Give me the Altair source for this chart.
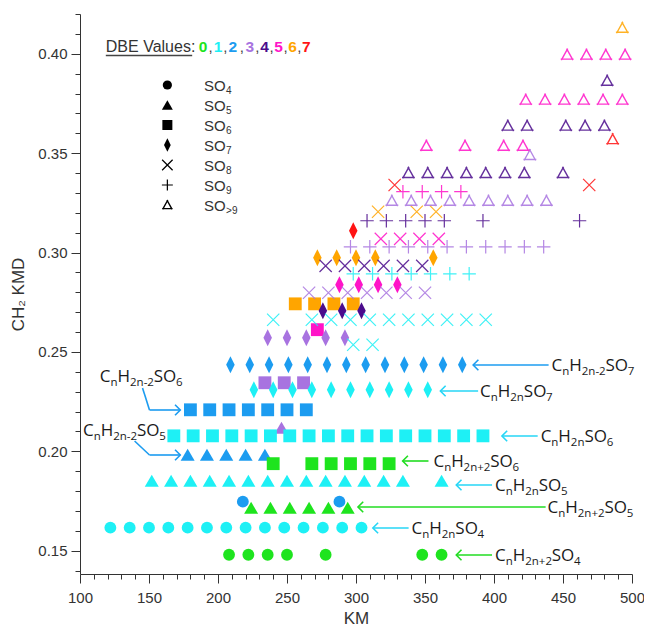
import altair as alt
import pandas as pd

# ---------------- data ----------------
dbe_levels = ["0", "1", "2", "3", "4", "5", "6", "7"]
dbe_colors = ["#1ee41e", "#1ef0f5", "#1c9cf0", "#a873e0", "#4b0c8c", "#ff14c8", "#ffa500", "#ff1414"]

# DBE 0
km_d0_so4 = [208, 222, 236, 250, 278, 348, 362]
km_d0_so5 = [224, 238, 252, 266, 280, 294]
km_d0_so6 = [240, 268, 282, 296, 310, 324]
# DBE 1
km_d1_so4 = [122, 136, 150, 164, 178, 192, 206, 220, 234, 248, 262, 276, 290, 304]
km_d1_so5 = [152, 166, 180, 194, 208, 222, 236, 250, 264, 278, 292, 306, 320, 334, 362]
km_d1_so6 = [168, 182, 196, 210, 224, 238, 252, 266, 280, 294, 308, 322, 336, 350, 364, 378, 392]
km_d1_so7 = [226, 240, 254, 268, 282, 296, 310, 324, 338, 352]
km_d1_so8a = [240, 268, 282, 296, 310, 324, 338, 352, 366, 380, 394]
km_d1_so8b = [298, 312]
km_d1_so9 = [298, 312, 326, 340, 354, 368, 382]
# DBE 2
km_d2_so4 = [218, 288]
km_d2_so5 = [178, 192, 206, 220, 234]
km_d2_so6 = [180, 194, 208, 222, 236, 250, 264]
km_d2_so7 = [209, 223, 237, 251, 265, 279, 293, 307, 321, 335, 349, 363, 377]
# DBE 3
km_d3_so5 = [246]
km_d3_so6 = [234, 248, 262]
km_d3_so7 = [236, 250, 264, 278, 292]
km_d3_so8 = [266, 280, 294, 308, 322, 336, 350]
km_d3_so9 = [296, 310, 324, 338, 352, 366, 380, 394, 408, 422, 436]
km_d3_sox_a = [326, 340, 354, 368, 382, 396, 410, 424, 438]
km_d3_sox_b = [426]
# DBE 4
km_d4_so7 = [276, 290, 304]
km_d4_so8 = [278, 292, 306, 320, 334, 348]
km_d4_so9 = [308, 322, 336, 350, 364, 392, 462]
km_d4_sox_a = [338, 352, 366, 380, 394, 408, 422, 450]
km_d4_sox_b = [410, 424, 452, 466, 480]
km_d4_sox_c = [482]
# DBE 5
km_d5_so6 = [272]
km_d5_so7 = [288, 302, 316, 330]
km_d5_so8 = [318, 332, 346, 360]
km_d5_so9 = [334, 348, 362, 376]
km_d5_sox_a = [351, 379, 407, 421]
km_d5_sox_b = [423, 437, 451, 465, 479, 493]
km_d5_sox_c = [453, 467, 481, 495]
# DBE 6
km_d6_so6 = [256, 270, 284, 298]
km_d6_so7 = [272, 286, 300, 314, 356]
km_d6_so8 = [316, 344, 358]
km_d6_sox = [493]
# DBE 7
km_d7_so7 = [298]
km_d7_so8 = [328, 469]
km_d7_sox = [486]

# (DBE, oxygen class, CH2 KMD, KM list)
series = [
    ("0", "SO4", 0.1480, km_d0_so4), ("0", "SO5", 0.1716, km_d0_so5), ("0", "SO6", 0.1938, km_d0_so6),
    ("1", "SO4", 0.1616, km_d1_so4), ("1", "SO5", 0.1852, km_d1_so5), ("1", "SO6", 0.2078, km_d1_so6),
    ("1", "SO7", 0.2310, km_d1_so7), ("1", "SO8", 0.2662, km_d1_so8a), ("1", "SO8", 0.2536, km_d1_so8b),
    ("1", "SO9", 0.2893, km_d1_so9),
    ("2", "SO4", 0.1747, km_d2_so4), ("2", "SO5", 0.1983, km_d2_so5), ("2", "SO6", 0.2209, km_d2_so6),
    ("2", "SO7", 0.2436, km_d2_so7),
    ("3", "SO5", 0.2119, km_d3_so5), ("3", "SO6", 0.2345, km_d3_so6), ("3", "SO7", 0.2571, km_d3_so7),
    ("3", "SO8", 0.2798, km_d3_so8), ("3", "SO9", 0.3029, km_d3_so9), ("3", "SOx", 0.3260, km_d3_sox_a),
    ("3", "SOx", 0.3490, km_d3_sox_b),
    ("4", "SO7", 0.2707, km_d4_so7), ("4", "SO8", 0.2933, km_d4_so8), ("4", "SO9", 0.3160, km_d4_so9),
    ("4", "SOx", 0.3400, km_d4_sox_a), ("4", "SOx", 0.3638, km_d4_sox_b), ("4", "SOx", 0.3864, km_d4_sox_c),
    ("5", "SO6", 0.2612, km_d5_so6), ("5", "SO7", 0.2838, km_d5_so7), ("5", "SO8", 0.3069, km_d5_so8),
    ("5", "SO9", 0.3306, km_d5_so9), ("5", "SOx", 0.3537, km_d5_sox_a), ("5", "SOx", 0.3769, km_d5_sox_b),
    ("5", "SOx", 0.3995, km_d5_sox_c),
    ("6", "SO6", 0.2742, km_d6_so6), ("6", "SO7", 0.2974, km_d6_so7), ("6", "SO8", 0.3205, km_d6_so8),
    ("6", "SOx", 0.4130, km_d6_sox),
    ("7", "SO7", 0.3110, km_d7_so7), ("7", "SO8", 0.3340, km_d7_so8), ("7", "SOx", 0.3570, km_d7_sox),
]

x_ticks = [100, 110, 120, 130, 140, 150, 160, 170, 180, 190, 200, 210, 220, 230, 240, 250, 260, 270, 280, 290,
           300, 310, 320, 330, 340, 350, 360, 370, 380, 390, 400, 410, 420, 430, 440, 450, 460, 470, 480, 490, 500]
y_ticks = [0.14, 0.15, 0.16, 0.17, 0.18, 0.19, 0.20, 0.21, 0.22, 0.23, 0.24, 0.25, 0.26, 0.27, 0.28, 0.29,
           0.30, 0.31, 0.32, 0.33, 0.34, 0.35, 0.36, 0.37, 0.38, 0.39, 0.40, 0.41, 0.42]

# ---------------- geometry helpers ----------------
X_DOM = [100, 500]
Y_DOM = [0.1383, 0.42]
W, H = 552, 560
# reference-figure pixel frame used to place annotations in data units
REF_X0, REF_W, REF_Y0, REF_H = 82, 556, 16, 560


def kx(px):  # reference pixel -> KM
    return X_DOM[0] + (px - REF_X0) * (X_DOM[1] - X_DOM[0]) / REF_W


def ky(py):  # reference pixel -> KMD
    return Y_DOM[1] - (py - REF_Y0) * (Y_DOM[1] - Y_DOM[0]) / REF_H


points = pd.DataFrame(
    [dict(km=k, kmd=y, dbe=d, so=s) for d, s, y, kms in series for k in kms]
)

TRI_TAILS = ("M-1.05,0.72L1.05,0.72M0.09,-1.0L-0.95,0.87M-0.09,-1.0L0.95,0.87")
SHAPES = {
    "SO4": dict(shape="circle", size=140, filled=True, strokeWidth=0, op=1),
    "SO5": dict(shape="M0,-0.85L1,0.85L-1,0.85Z", size=196, filled=True, strokeWidth=0, op=1),
    "SO6": dict(shape="square", size=165, filled=True, strokeWidth=0, op=1),
    "SO7": dict(shape="M0,-1L0.5,0L0,1L-0.5,0Z", size=290, filled=True, strokeWidth=0, op=1),
    "SO8": dict(shape="M-1,-1L1,1M-1,1L1,-1", size=150, filled=False, strokeWidth=1.2, op=0.85),
    "SO9": dict(shape="M-1,0L1,0M0,-1L0,1", size=180, filled=False, strokeWidth=1.2, op=0.85),
    "SOx": dict(shape=TRI_TAILS, size=150, filled=False, strokeWidth=1.4, op=0.85),
}
LEG_SIZES = {"SO4": 85, "SO5": 120, "SO6": 100, "SO7": 180, "SO8": 110, "SO9": 120, "SOx": 100}
LEG_SUBS = {"SO4": "4", "SO5": "5", "SO6": "6", "SO7": "7", "SO8": "8", "SO9": "9", "SOx": ">9"}
LEG_ORDER = ["SO4", "SO5", "SO6", "SO7", "SO8", "SO9", "SOx"]

x_axis = alt.Axis(
    values=x_ticks, labelExpr="datum.value % 50 === 0 ? datum.label : ''",
    tickSize={"condition": {"test": "datum.value % 50 === 0", "value": 9}, "value": 5},
    grid=False, labelFlush=False, labelOverlap=False, tickColor="#333", domainColor="#333",
    labelColor="#333", labelFont="Liberation Sans", labelFontSize=15, labelPadding=7,
    title="KM", titleFont="Liberation Sans", titleFontSize=17, titleFontWeight="normal",
    titleColor="#333", titlePadding=5,
)
y_axis = alt.Axis(
    values=y_ticks,
    labelExpr="round(datum.value*100) % 5 === 0 ? format(datum.value, '.2f') : ''",
    tickSize={"condition": {"test": "round(datum.value*100) % 5 === 0", "value": 9}, "value": 5},
    grid=False, labelFlush=False, labelOverlap=False, tickColor="#333", domainColor="#333",
    labelColor="#333", labelFont="Liberation Sans", labelFontSize=15, labelPadding=4,
    title="CH\u2082 KMD", titleFont="Liberation Sans", titleFontSize=17, titleFontWeight="normal",
    titleColor="#333", titlePadding=10,
)
xs = alt.Scale(domain=X_DOM, nice=False, zero=False)
ys = alt.Scale(domain=Y_DOM, nice=False, zero=False)


def X(f="km"):
    return alt.X(f"{f}:Q", scale=xs, axis=x_axis)


def Y(f="kmd"):
    return alt.Y(f"{f}:Q", scale=ys, axis=y_axis)


color = alt.Color("dbe:N", scale=alt.Scale(domain=dbe_levels, range=dbe_colors), legend=None)

layers = []
for so in LEG_ORDER:
    sp = SHAPES[so]
    sub = points[points.so == so]
    layers.append(
        alt.Chart(sub).mark_point(shape=sp["shape"], size=sp["size"], filled=sp["filled"],
                                  strokeWidth=sp["strokeWidth"], opacity=sp["op"])
        .encode(x=X(), y=Y(), color=color)
    )

# ---------------- legend symbols ----------------
leg_rows = [dict(km=kx(170), kmd=ky(87 + 20 * i), so=so) for i, so in enumerate(LEG_ORDER)]
for r in leg_rows:
    sp = SHAPES[r["so"]]
    layers.append(
        alt.Chart(pd.DataFrame([r])).mark_point(shape=sp["shape"], size=LEG_SIZES[r["so"]],
                                                filled=sp["filled"], strokeWidth=sp["strokeWidth"] or 0,
                                                opacity=1, color="black")
        .encode(x=X(), y=Y())
    )

# ---------------- annotation texts ----------------
OS_W = {"C": .634, "H": .739, "S": .537, "O": .781, "n": .614, "-": .322, "+": .572, ">": .572}
LS_W = {"S": .667, "O": .778}

BLUE, CYAN, GREEN = "#1c9cf0", "#26d6f6", "#22dd22"


def parts(hsub, osub):
    return [("C", 0), ("n", 1), ("H", 0), (hsub, 1), ("SO", 0), (osub, 1)]


labels = [
    (parts("2n-2", "7"), 557, 367), (parts("2n", "7"), 485, 393), (parts("2n", "6"), 546, 438),
    (parts("2n+2", "6"), 438, 463), (parts("2n", "5"), 500, 487), (parts("2n+2", "5"), 553, 509),
    (parts("2n", "4"), 416, 530), (parts("2n+2", "4"), 500, 557),
    (parts("2n-2", "6"), 102, 378), (parts("2n-2", "5"), 85, 432),
]

text_rows = []
for segs, x0, cy in labels:
    x = x0
    bl = cy + 6
    for txt, issub in segs:
        fs = 11.5 if issub else 17
        text_rows.append(dict(km=kx(x), kmd=ky(bl + (4 if issub else 0)), text=txt, fs=fs))
        x += sum(OS_W.get(ch, .572) for ch in txt) * fs
text_df = pd.DataFrame(text_rows)
layers.append(
    alt.Chart(text_df).mark_text(align="left", baseline="alphabetic", font="Open Sans", color="#1a1a1a")
    .encode(x=X(), y=Y(), text="text:N", size=alt.Size("fs:Q", scale=None))
)

# legend texts (SO + subscript)
leg_text = []
for i, so in enumerate(LEG_ORDER):
    cy = 87 + 20 * i
    leg_text.append(dict(km=kx(207), kmd=ky(cy + 5.5), text="SO", fs=15))
    leg_text.append(dict(km=kx(207 + 15 * (LS_W["S"] + LS_W["O"]) + 0.5), kmd=ky(cy + 8.5),
                         text=LEG_SUBS[so], fs=10))
leg_text.append(dict(km=kx(108), kmd=ky(54), text="DBE Values:", fs=16))
comma_x = [213.5, 228.5, 245, 260.5, 275, 289, 303]
leg_df = pd.DataFrame(leg_text)
layers.append(
    alt.Chart(leg_df).mark_text(align="left", baseline="alphabetic", font="Liberation Sans", color="#333")
    .encode(x=X(), y=Y(), text="text:N", size=alt.Size("fs:Q", scale=None))
)
comma_df = pd.DataFrame([dict(km=kx(px), kmd=ky(54), text=",") for px in comma_x])
layers.append(
    alt.Chart(comma_df).mark_text(align="center", baseline="alphabetic", font="Liberation Sans",
                                  fontSize=15, color="#444")
    .encode(x=X(), y=Y(), text="text:N")
)
digit_x = [206, 221, 236, 253, 268, 282, 296, 310]
digit_df = pd.DataFrame([dict(km=kx(px), kmd=ky(54), text=d, dbe=d) for px, d in zip(digit_x, dbe_levels)])
digit_colors = ["#1ee41e", "#1ef0f5", "#1c9cf0", "#a873e0", "#111111", "#ff14c8", "#ffa500", "#ff1414"]
layers.append(
    alt.Chart(digit_df).mark_text(align="center", baseline="alphabetic", font="Liberation Sans",
                                  fontSize=15.5, fontWeight="bold")
    .encode(x=X(), y=Y(), text="text:N",
            color=alt.Color("dbe:N", scale=alt.Scale(domain=dbe_levels, range=digit_colors), legend=None))
)

# ---------------- arrows ----------------
seg_rows = []
tip_rows = []


def arrow(pts, col, direction):
    for (xa, ya), (xb, yb) in zip(pts[:-1], pts[1:]):
        seg_rows.append(dict(km=kx(xa), kmd=ky(ya), km2=kx(xb), kmd2=ky(yb), col=col))
    tx, ty = pts[-1]
    tip_rows.append(dict(km=kx(tx), kmd=ky(ty), col=col, dir=direction))


arrow([(554, 367), (478, 367)], BLUE, "L")
arrow([(483, 393), (445, 393)], CYAN, "L")
arrow([(543, 438), (507, 438)], CYAN, "L")
arrow([(433, 463), (407, 463)], GREEN, "L")
arrow([(497, 487), (461, 487)], CYAN, "L")
arrow([(551, 509), (362, 509)], GREEN, "L")
arrow([(413, 530), (377, 530)], CYAN, "L")
arrow([(497, 557), (461, 557)], GREEN, "L")
arrow([(145, 390), (152, 412), (183, 412)], BLUE, "R")
arrow([(137, 443), (152, 457), (183, 457)], BLUE, "R")

# underline of "DBE Values:"
seg_rows.append(dict(km=kx(108), kmd=ky(57.5), km2=kx(195), kmd2=ky(57.5), col="#444"))

seg_df = pd.DataFrame(seg_rows)
layers.append(
    alt.Chart(seg_df).mark_rule(strokeWidth=1.6)
    .encode(x=X(), y=Y(), x2="km2:Q", y2="kmd2:Q", color=alt.Color("col:N", scale=None))
)
tip_df = pd.DataFrame(tip_rows)
for d, path in [("L", "M1,-1L0,0L1,1"), ("R", "M-1,-1L0,0L-1,1")]:
    layers.append(
        alt.Chart(tip_df[tip_df.dir == d]).mark_point(shape=path, size=110, filled=False,
                                                      strokeWidth=1.6, opacity=1)
        .encode(x=X(), y=Y(), color=alt.Color("col:N", scale=None))
    )

chart = (
    alt.layer(*layers)
    .properties(width=W, height=H, padding={"left": 72, "top": 6, "right": 12, "bottom": 57},
                autosize=alt.AutoSizeParams(type="none"))
    .configure_view(stroke=None)
)

chart.save("out.html", embed_options={"renderer": "svg", "actions": False})
